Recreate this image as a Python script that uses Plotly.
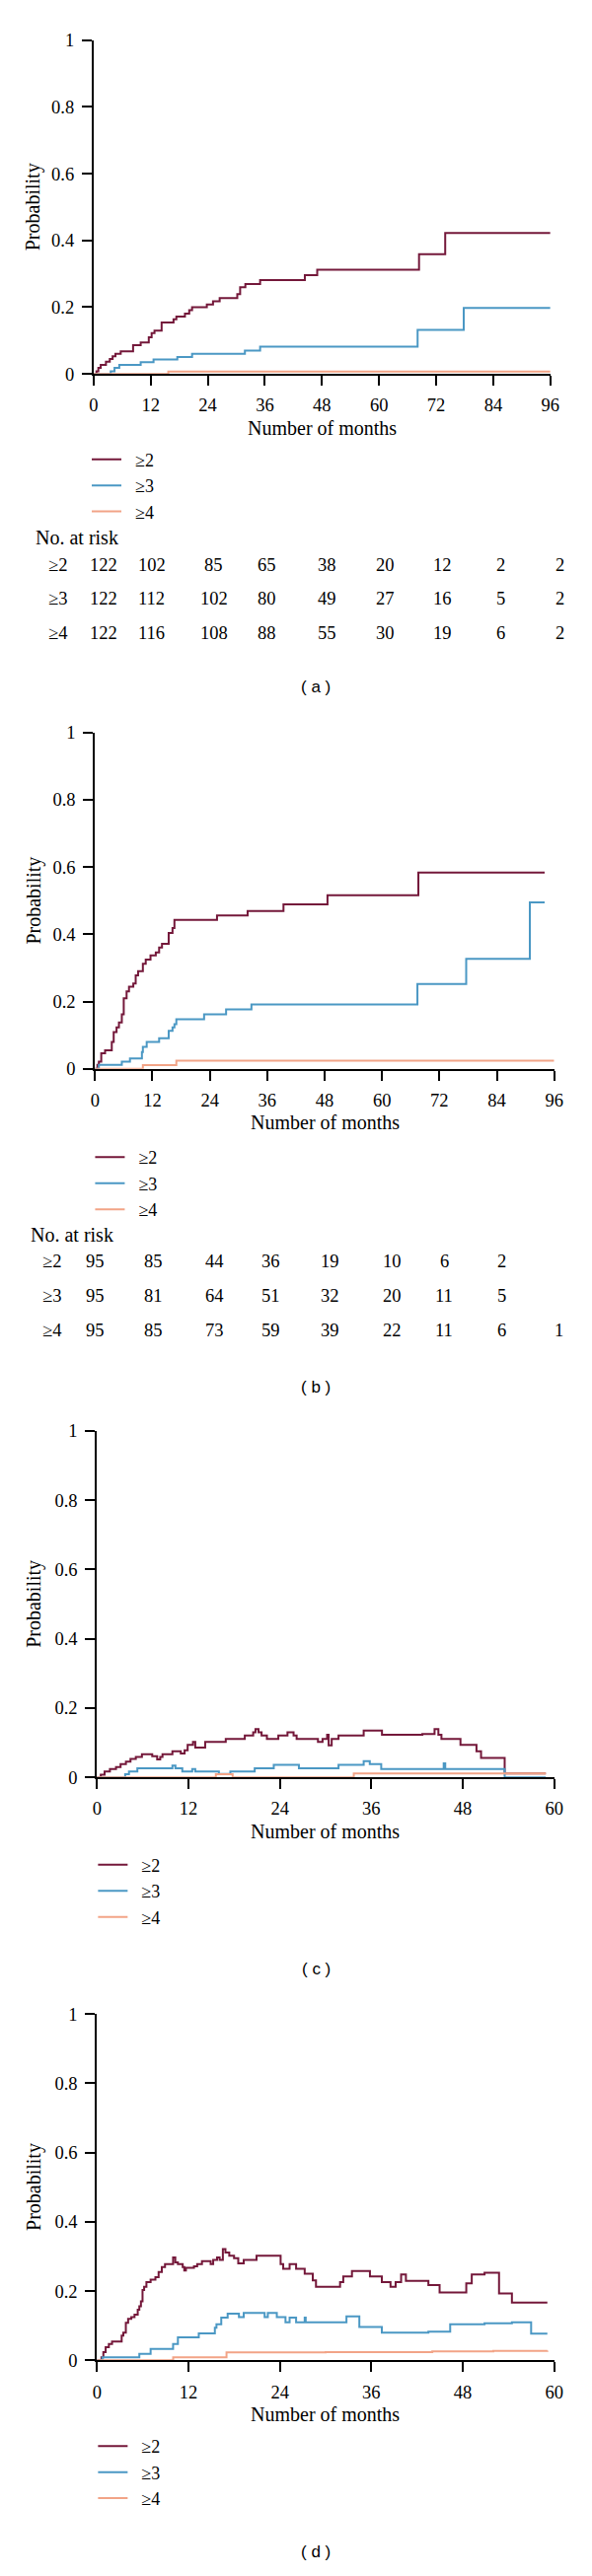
import plotly.graph_objects as go

# ---------------- data ----------------
series_names = ["\u22652", "\u22653", "\u22654"]
colors = ["#74183a", "#4b98c4", "#f2a487"]

# Panel (a)
a2_t = [0, 0.6, 1.0, 1.5, 2.6, 3.4, 4.0, 4.6, 5.7, 8.3, 9.9, 11.6, 12.2, 12.8, 14.3, 16.8, 17.4, 19.2, 20.1, 20.7,
        23.8, 25.1, 26.5, 30.2, 30.8, 31.9, 35.0, 44.4, 47.0, 68.4, 73.9, 96]
a2_p = [0, 0.008, 0.018, 0.027, 0.037, 0.045, 0.053, 0.060, 0.068, 0.086, 0.094, 0.110, 0.122, 0.130, 0.154, 0.164,
        0.172, 0.181, 0.191, 0.200, 0.208, 0.218, 0.227, 0.239, 0.260, 0.269, 0.281, 0.296, 0.312, 0.359, 0.422, 0.422]
a3_t = [0, 3.6, 4.4, 5.4, 9.9, 12.6, 17.6, 20.7, 31.8, 35.0, 68.1, 77.8, 96]
a3_p = [0, 0.008, 0.018, 0.027, 0.035, 0.043, 0.051, 0.060, 0.070, 0.082, 0.132, 0.198, 0.198]
a4_t = [0, 15.7, 96]
a4_p = [0, 0.007, 0.007]

# Panel (b)
b2_t = [0, 0.5, 0.8, 1.3, 2.1, 3.5, 3.9, 4.5, 5.0, 5.6, 6.0, 6.6, 7.1, 8.0, 8.5, 9.0, 10.0, 10.6, 11.6, 12.7,
        13.4, 14.0, 15.4, 16.2, 16.6, 25.5, 31.9, 39.4, 48.6, 67.6, 94.0]
b2_p = [0, 0.012, 0.021, 0.046, 0.055, 0.080, 0.109, 0.123, 0.138, 0.162, 0.210, 0.230, 0.244, 0.254, 0.278, 0.290,
        0.312, 0.325, 0.337, 0.346, 0.361, 0.372, 0.404, 0.419, 0.443, 0.456, 0.469, 0.489, 0.516, 0.584, 0.584]
b3_t = [0, 0.8, 5.6, 7.3, 9.8, 10.0, 10.8, 13.4, 15.4, 16.2, 16.6, 17.0, 22.8, 27.4, 32.7, 67.4, 77.6, 90.9, 94.0]
b3_p = [0, 0.012, 0.021, 0.031, 0.050, 0.065, 0.080, 0.091, 0.113, 0.123, 0.133, 0.147, 0.162, 0.177, 0.191, 0.252,
        0.327, 0.495, 0.495]
b4_t = [0, 10.0, 17.0, 96]
b4_p = [0, 0.011, 0.024, 0.024]

# Panel (c)
c2_t = [0, 0.5, 1.0, 1.7, 2.5, 3.1, 3.8, 4.4, 5.1, 5.9, 7.25, 7.9, 8.3, 8.6, 9.9, 11.0, 11.5, 11.9, 12.6, 12.9,
        14.2, 16.9, 19.4, 20.5, 20.8, 21.2, 21.6, 22.3, 23.8, 25.0, 25.8, 26.2, 29.0, 29.6, 30.2, 30.4, 30.8, 31.7,
        35.0, 37.4, 42.7, 44.3, 44.8, 45.2, 47.7, 49.8, 50.4, 53.5, 58.9]
c2_p = [0, 0.0075, 0.017, 0.024, 0.030, 0.038, 0.045, 0.053, 0.059, 0.067, 0.061, 0.052, 0.059, 0.067, 0.075, 0.069,
        0.078, 0.094, 0.102, 0.086, 0.102, 0.111, 0.121, 0.130, 0.139, 0.130, 0.121, 0.111, 0.121, 0.130, 0.121,
        0.111, 0.102, 0.111, 0.123, 0.092, 0.111, 0.121, 0.135, 0.123, 0.125, 0.139, 0.123, 0.111, 0.094, 0.075,
        0.056, 0.011, 0.011]
c3_t = [0, 3.7, 4.2, 5.3, 9.9, 10.3, 11.2, 12.5, 12.9, 16.0, 17.5, 20.7, 23.2, 26.5, 31.7, 35.0, 35.8, 37.3, 45.5,
        45.7, 53.5, 58.9]
c3_p = [0, 0.009, 0.017, 0.026, 0.034, 0.026, 0.017, 0.024, 0.017, 0.010, 0.017, 0.026, 0.036, 0.026, 0.036, 0.047,
        0.038, 0.024, 0.040, 0.024, 0, 0]
c4_t = [0, 15.6, 17.8, 33.7, 58.9]
c4_p = [0, 0.009, 0, 0.011, 0.011]

# Panel (d)
d2_t = [0, 0.59, 0.84, 1.14, 1.56, 1.98, 3.24, 3.46, 3.79, 4.09, 4.51, 4.93, 5.35, 5.56, 5.77, 5.98, 6.19, 6.49,
        7.04, 7.67, 8.09, 8.51, 8.93, 9.99, 10.28, 10.62, 11.25, 11.46, 11.67, 12.73, 13.15, 13.78, 14.92, 15.25,
        15.76, 16.1, 16.52, 16.86, 17.36, 17.99, 18.54, 19.26, 20.94, 24.1, 24.44, 25.28, 26.13, 27.26, 28.32, 28.74,
        31.9, 32.32, 33.46, 35.82, 37.38, 38.52, 39.19, 39.91, 40.54, 43.49, 44.96, 48.46, 49.18, 50.86, 52.76,
        54.45, 59.1]
d2_p = [0, 0.009, 0.024, 0.038, 0.047, 0.054, 0.071, 0.080, 0.108, 0.120, 0.125, 0.132, 0.146, 0.156, 0.170, 0.203,
        0.212, 0.226, 0.233, 0.240, 0.255, 0.269, 0.278, 0.297, 0.283, 0.278, 0.269, 0.259, 0.267, 0.271, 0.278,
        0.286, 0.278, 0.290, 0.297, 0.290, 0.321, 0.311, 0.302, 0.295, 0.280, 0.290, 0.302, 0.278, 0.264, 0.278,
        0.264, 0.250, 0.231, 0.212, 0.226, 0.242, 0.258, 0.242, 0.226, 0.212, 0.226, 0.248, 0.229, 0.217, 0.196,
        0.222, 0.248, 0.253, 0.193, 0.167, 0.167]
d3_t = [0, 0.72, 5.56, 7.04, 9.99, 10.62, 13.36, 15.47, 15.68, 16.31, 17.15, 18.63, 19.26, 22.0, 22.42, 23.6, 24.74,
        25.28, 26.13, 27.26, 27.39, 32.74, 34.43, 37.38, 43.49, 46.35, 50.86, 54.45, 56.97, 59.1]
d3_p = [0, 0.009, 0.019, 0.033, 0.047, 0.066, 0.078, 0.094, 0.104, 0.123, 0.135, 0.125, 0.137, 0.125, 0.137, 0.125,
        0.110, 0.123, 0.110, 0.123, 0.110, 0.127, 0.096, 0.080, 0.083, 0.104, 0.107, 0.110, 0.077, 0.077]
d4_t = [0, 10.0, 17.0, 30.0, 44.0, 52.0, 59.1]
d4_p = [0, 0.009, 0.023, 0.024, 0.026, 0.027, 0.028]

# Numbers at risk
risk_times = [0, 12, 24, 36, 48, 60, 72, 84, 96]
risk_a = [[122, 102, 85, 65, 38, 20, 12, 2, 2],
          [122, 112, 102, 80, 49, 27, 16, 5, 2],
          [122, 116, 108, 88, 55, 30, 19, 6, 2]]
risk_b = [[95, 85, 44, 36, 19, 10, 6, 2, None],
          [95, 81, 64, 51, 32, 20, 11, 5, None],
          [95, 85, 73, 59, 39, 22, 11, 6, 1]]

x_ticks_long = [0, 12, 24, 36, 48, 60, 72, 84, 96]
x_ticks_short = [0, 12, 24, 36, 48, 60]
y_ticks = [0, 0.2, 0.4, 0.6, 0.8, 1]
y_ticktext = ["0", "0.2", "0.4", "0.6", "0.8", "1"]
panel_labels = ["( a )", "( b )", "( c )", "( d )"]

# ---------------- layout constants (pixels) ----------------
W, H = 600, 2612
SERIF = "Liberation Serif"
SANS = "Liberation Sans"
NUM_SIZE = 18.5
WORD_SIZE = 20

def px_x(p):
    return p / W

def px_y(p):
    return 1 - p / H

panels = [
    dict(curves=[(a2_t, a2_p), (a3_t, a3_p), (a4_t, a4_p)], xr=(92, 566), yr=(31, 372), xmax=96,
         ticks=x_ticks_long, leg=(85, 441), label_y=692, risk=risk_a, risk_y=(539, 567, 602, 637),
         risk_shift=[10, 1, 6, 2, 5, 6, 6, 8, 10], risk_lab_x=55, risk_title_x=30),
    dict(curves=[(b2_t, b2_p), (b3_t, b3_p), (b4_t, b4_p)], xr=(93.5, 570), yr=(738.5, 1082), xmax=96,
         ticks=x_ticks_long, leg=(88.5, 1154), label_y=1407, risk=risk_b, risk_y=(1252, 1279, 1314, 1349),
         risk_shift=[0, 1, 5, 4, 5, 10, 5, 5, 5], risk_lab_x=49, risk_title_x=25),
    dict(curves=[(c2_t, c2_p), (c3_t, c3_p), (c4_t, c4_p)], xr=(95.5, 570), yr=(1452, 1806), xmax=60,
         ticks=x_ticks_short, leg=(91.5, 1877), label_y=2002, risk=None),
    dict(curves=[(d2_t, d2_p), (d3_t, d3_p), (d4_t, d4_p)], xr=(95.5, 570), yr=(2047.7, 2401.7), xmax=60,
         ticks=x_ticks_short, leg=(91.5, 2471), label_y=2597, risk=None),
]

fig = go.Figure()
annotations = []
layout_extra = {}

for i, pn in enumerate(panels):
    k = "" if i == 0 else str(i + 1)
    xa, ya = "x" + k, "y" + k
    legname = "legend" + k
    for j, (t, p) in enumerate(pn["curves"]):
        fig.add_trace(go.Scatter(
            x=t, y=p, mode="lines", name="\u00a0\u00a0" + series_names[j],
            line=dict(shape="hv", color=colors[j], width=2),
            xaxis=xa, yaxis=ya, legend=legname, hoverinfo="skip"))
    x0, x1 = pn["xr"]
    yt, yb = pn["yr"]
    layout_extra["xaxis" + k] = dict(
        domain=[px_x(x0), px_x(x1)], range=[0, pn["xmax"]], anchor=ya,
        tickvals=pn["ticks"], showline=True, linecolor="black", linewidth=2,
        ticks="outside", ticklen=10, tickwidth=2, tickcolor="black",
        showgrid=False, zeroline=False, ticklabelstandoff=4,
        tickfont=dict(family=SERIF, size=NUM_SIZE, color="black"), fixedrange=True)
    layout_extra["yaxis" + k] = dict(
        domain=[px_y(yb), px_y(yt)], range=[0, 1], anchor=xa,
        tickvals=y_ticks, ticktext=y_ticktext, showline=True, linecolor="black", linewidth=2,
        ticks="outside", ticklen=10, tickwidth=2, tickcolor="black",
        showgrid=False, zeroline=False, ticklabelstandoff=4,
        tickfont=dict(family=SERIF, size=NUM_SIZE, color="black"), fixedrange=True)
    lx, ly = pn["leg"]
    layout_extra[legname] = dict(
        x=px_x(lx), y=px_y(ly), xanchor="left", yanchor="top",
        bgcolor="rgba(0,0,0,0)", borderwidth=0,
        font=dict(family=SERIF, size=18, color="black"), traceorder="normal")
    annotations.append(dict(text="Number of months", xref="paper", yref="paper",
                            x=px_x((x0 + x1) / 2), y=px_y(yb + 55), xanchor="center", yanchor="middle",
                            showarrow=False, font=dict(family=SERIF, size=WORD_SIZE, color="black")))
    annotations.append(dict(text="Probability", xref="paper", yref="paper", textangle=-90,
                            x=px_x(30), y=px_y((yt + yb) / 2), xanchor="center", yanchor="middle",
                            showarrow=False, font=dict(family=SERIF, size=WORD_SIZE, color="black")))
    annotations.append(dict(text=panel_labels[i], xref="paper", yref="paper",
                            x=px_x(323), y=px_y(pn["label_y"]), xanchor="center", yanchor="middle",
                            showarrow=False, font=dict(family=SANS, size=17, color="black")))
    if pn["risk"] is not None:
        ry = pn["risk_y"]
        annotations.append(dict(text="No. at risk", xref="paper", yref="paper",
                                x=px_x(pn["risk_title_x"]), y=px_y(ry[0]), xanchor="left", yanchor="middle",
                                showarrow=False, font=dict(family=SERIF, size=WORD_SIZE, color="black")))
        for r, row in enumerate(pn["risk"]):
            annotations.append(dict(text=series_names[r], xref="paper", yref="paper",
                                    x=px_x(pn["risk_lab_x"]), y=px_y(ry[r + 1]), xanchor="center",
                                    yanchor="middle", showarrow=False,
                                    font=dict(family=SERIF, size=NUM_SIZE, color="black")))
            for c, val in enumerate(row):
                if val is None:
                    continue
                annotations.append(dict(text=str(val), xref=xa, yref="paper",
                                        x=risk_times[c], y=px_y(ry[r + 1]), xshift=pn["risk_shift"][c],
                                        xanchor="center", yanchor="middle", showarrow=False,
                                        font=dict(family=SERIF, size=NUM_SIZE, color="black")))

fig.update_layout(
    width=W, height=H, margin=dict(l=0, r=0, t=0, b=0),
    paper_bgcolor="white", plot_bgcolor="white",
    showlegend=True, annotations=annotations, **layout_extra)

# remove the browser's default page margin so the figure sits at the window origin
fig.write_html("out.html", config={"displayModeBar": False, "staticPlot": True},
               post_script="document.body.style.margin='0';document.body.style.overflow='hidden';")
